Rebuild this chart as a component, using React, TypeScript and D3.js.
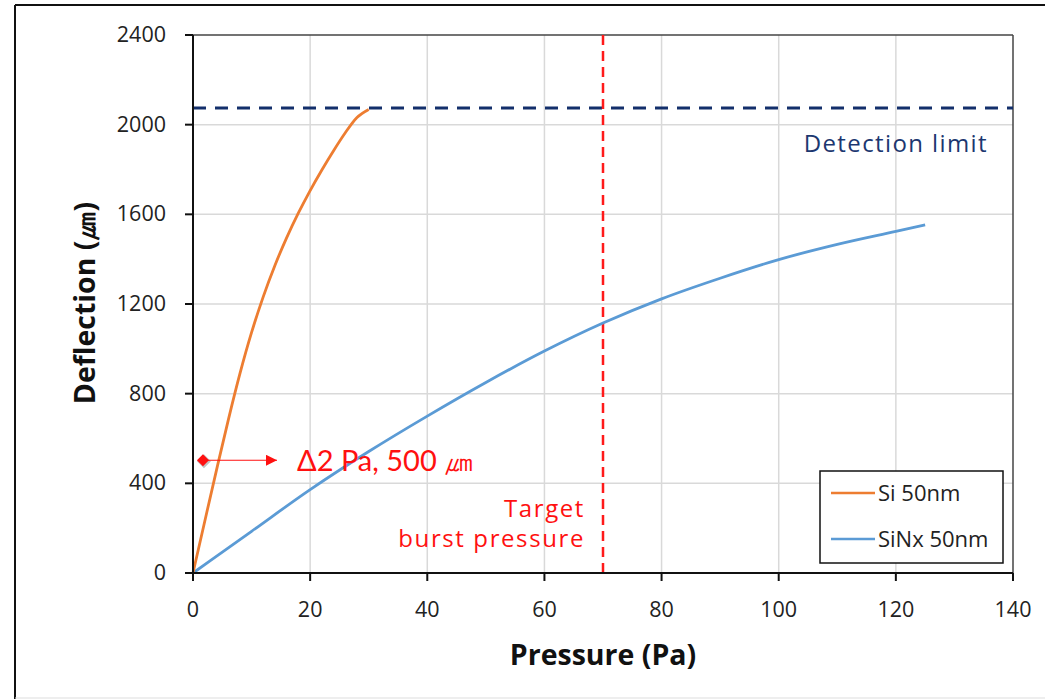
import React from "react";
import * as d3 from "d3";

const siPressure = [0, 2, 4, 6, 8, 10, 12, 14, 16, 18, 20, 22, 24, 26, 28, 30];
const siDeflection = [0, 230, 458, 680, 888, 1073, 1233, 1373, 1496, 1606, 1706, 1798, 1884, 1964, 2032, 2068];
const sinxPressure = [0, 10, 20, 30, 40, 50, 60, 70, 80, 90, 100, 110, 120, 125];
const sinxDeflection = [0, 186, 372, 542, 700, 850, 990, 1115, 1223, 1315, 1398, 1466, 1524, 1553];
const xTicks = [0, 20, 40, 60, 80, 100, 120, 140];
const yTicks = [0, 400, 800, 1200, 1600, 2000, 2400];
const detectionLimit = 2074;
const targetPressure = 70;
const markerPoint = { p: 1.7, d: 503 };
const seriesNames = ["Si 50nm", "SiNx 50nm"];

const W = 1045;
const H = 699;
const left = 193, right = 1013, top = 35, bottom = 573;
const tickFont = "'Open Sans', 'Noto Sans', sans-serif";
const annFont = "'Open Sans', 'Noto Sans', sans-serif";

export default function App() {
  const x = d3.scaleLinear().domain([0, 140]).range([left, right]);
  const y = d3.scaleLinear().domain([0, 2400]).range([bottom, top]);
  const line = d3
    .line<[number, number]>()
    .x((d) => x(d[0]))
    .y((d) => y(d[1]))
    .curve(d3.curveMonotoneX);
  const siData: [number, number][] = siPressure.map((p, i) => [p, siDeflection[i]]);
  const sinxData: [number, number][] = sinxPressure.map((p, i) => [p, sinxDeflection[i]]);

  const mx = x(markerPoint.p);
  const my = y(markerPoint.d);

  return (
    <svg width={W} height={H} style={{ position: "absolute", left: 0, top: 0, background: "#fff" }}>
      <rect x={0} y={0} width={W} height={H} fill="#fff" />
      {/* outer frame */}
      <line x1={15} y1={5} x2={15} y2={H} stroke="#111" strokeWidth={2} />
      <line x1={15} y1={5} x2={W} y2={5} stroke="#111" strokeWidth={2} />
      <line x1={15} y1={698} x2={W} y2={698} stroke="#ddd" strokeWidth={1} />

      {/* grid */}
      {xTicks.slice(1, -1).map((t) => (
        <line key={"gx" + t} x1={x(t)} x2={x(t)} y1={top} y2={bottom} stroke="#d9d9d9" strokeWidth={1.5} />
      ))}
      {yTicks.slice(1, -1).map((t) => (
        <line key={"gy" + t} x1={left} x2={right} y1={y(t)} y2={y(t)} stroke="#d9d9d9" strokeWidth={1.5} />
      ))}

      {/* plot frame top/right */}
      <line x1={left} x2={right} y1={top} y2={top} stroke="#444" strokeWidth={1.5} />
      <line x1={right} x2={right} y1={top} y2={bottom} stroke="#444" strokeWidth={1.5} />

      {/* detection limit */}
      <line x1={left} x2={right} y1={y(detectionLimit)} y2={y(detectionLimit)} stroke="#132f6b" strokeWidth={3} strokeDasharray="13 9" />
      <text x={988} y={152} textAnchor="end" fontFamily={annFont} fontSize={24} letterSpacing={1.4} fill="#1c3770">Detection limit</text>

      {/* target pressure */}
      <line x1={x(targetPressure)} x2={x(targetPressure)} y1={top} y2={bottom} stroke="#ff1a1a" strokeWidth={2.5} strokeDasharray="10 6" />
      <text x={585} y={517} textAnchor="end" fontFamily={annFont} fontSize={24} letterSpacing={1.6} fill="#ff1010">Target</text>
      <text x={585} y={547} textAnchor="end" fontFamily={annFont} fontSize={24} letterSpacing={1.6} fill="#ff1010">burst pressure</text>

      {/* series */}
      <path d={line(sinxData) || ""} fill="none" stroke="#5b9bd5" strokeWidth={2.8} />
      <path d={line(siData) || ""} fill="none" stroke="#ed7d31" strokeWidth={2.8} />

      {/* axes */}
      <line x1={left} x2={left} y1={top} y2={bottom + 7} stroke="#111" strokeWidth={2} />
      <line x1={left - 8} x2={right} y1={bottom} y2={bottom} stroke="#111" strokeWidth={2} />
      {yTicks.map((t) => (
        <g key={"yt" + t}>
          <line x1={left - 8} x2={left} y1={y(t)} y2={y(t)} stroke="#111" strokeWidth={2} />
          <text x={166} y={y(t) + 7} textAnchor="end" fontFamily={tickFont} fontSize={21.5} fill="#222">{t}</text>
        </g>
      ))}
      {xTicks.map((t) => (
        <g key={"xt" + t}>
          <line x1={x(t)} x2={x(t)} y1={bottom} y2={bottom + 8} stroke="#111" strokeWidth={2} />
          <text x={x(t)} y={617} textAnchor="middle" fontFamily={tickFont} fontSize={21.5} fill="#222">{t}</text>
        </g>
      ))}

      {/* axis titles */}
      <text x={603} y={665} textAnchor="middle" fontFamily={tickFont} fontWeight="bold" fontSize={28.5} fill="#111">Pressure (Pa)</text>
      <text transform="translate(95,303) rotate(-90)" textAnchor="middle" fontFamily={tickFont} fontWeight="bold" fontSize={28.5} fill="#111">Deflection (㎛)</text>

      {/* annotation */}
      <defs>
        <marker id="arrowHead" viewBox="0 0 10 10" refX={10} refY={5} markerWidth={13} markerHeight={11} markerUnits="userSpaceOnUse" orient="auto">
          <path d="M0,0 L10,5 L0,10 z" fill="#ff1010" />
        </marker>
      </defs>
      <path d={`M${mx},${my - 7} L${mx + 7},${my} L${mx},${my + 7} L${mx - 7},${my} Z`} fill="#999" opacity={0.6} transform="translate(1,1)" />
      <path d={`M${mx},${my - 6} L${mx + 6},${my} L${mx},${my + 6} L${mx - 6},${my} Z`} fill="#ff1010" />
      <line x1={mx} x2={277} y1={my} y2={my} stroke="#ff1010" strokeWidth={1.2} markerEnd="url(#arrowHead)" />
      <text x={297} y={471} fontFamily="'Lato', 'Noto Sans', sans-serif" fontSize={29} fill="#ff1010">Δ2 Pa, 500 ㎛</text>

      {/* legend */}
      <rect x={820} y={471} width={183} height={92} fill="#fff" stroke="#111" strokeWidth={1.5} />
      <line x1={831} x2={875} y1={493} y2={493} stroke="#ed7d31" strokeWidth={2.5} />
      <line x1={831} x2={875} y1={539} y2={539} stroke="#5b9bd5" strokeWidth={2.5} />
      <text x={878} y={501} fontFamily={tickFont} fontSize={22} fill="#222">{seriesNames[0]}</text>
      <text x={878} y={547} fontFamily={tickFont} fontSize={22} fill="#222">{seriesNames[1]}</text>
    </svg>
  );
}
